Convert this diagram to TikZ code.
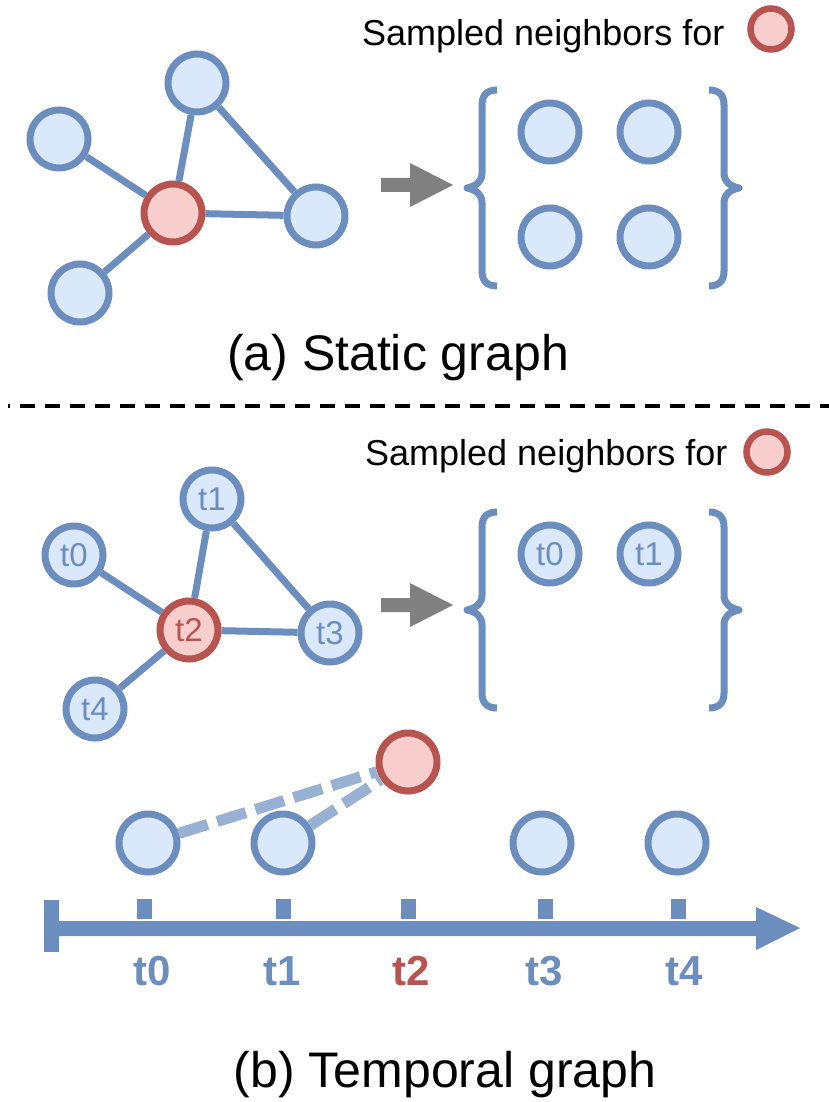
\documentclass[tikz,border=0pt]{standalone}
\usepackage{fontspec}
\setmainfont{Liberation Sans}
\usetikzlibrary{arrows.meta,positioning}
\definecolor{blueline}{HTML}{6C8EBF}
\definecolor{bluefill}{HTML}{DAE8FC}
\definecolor{redline}{HTML}{B85450}
\definecolor{redfill}{HTML}{F8CECC}
\definecolor{arrowgray}{HTML}{808080}

\begin{document}
\begin{tikzpicture}[x=1pt, y=-1pt,
    bnode/.style={circle, draw=blueline, fill=bluefill, line width=7pt,
                  minimum size=58pt, inner sep=0pt, text=blueline,
                  font=\fontsize{33}{36}\selectfont},
    rnode/.style={bnode, draw=redline, fill=redfill, text=redline},
    legend/.style={rnode, minimum size=41pt, line width=6.5pt},
    edge/.style={draw=blueline, line width=7pt},
    tdash/.style={draw=blueline!70, line width=11pt, dash pattern=on 30pt off 10pt},
    sbrace/.style={draw=blueline, line width=7pt, line join=round},
    lbl/.style={inner sep=0pt, font=\fontsize{36}{40}\selectfont},
    caption/.style={inner sep=0pt, anchor=base, font=\fontsize{50}{56}\selectfont},
    tlabel/.style={inner sep=0pt, anchor=base, text=blueline,
                   font=\fontsize{42}{46}\selectfont\bfseries},
    sep/.style={line width=4pt, dash pattern=on 15pt off 10pt, dash phase=13pt}
  ]
  \useasboundingbox (0,0) rectangle (829,1102);

  % (a) static graph
  \node[rnode] (c) at (173,213) {};
  \node[bnode] (n1) at (197,83) {};
  \node[bnode] (n2) at (59,139) {};
  \node[bnode] (n3) at (80,293) {};
  \node[bnode] (n4) at (316,216) {};
  \draw[edge] (c) -- (n1);
  \draw[edge] (c) -- (n2);
  \draw[edge] (c) -- (n3);
  \draw[edge] (c) -- (n4);
  \draw[edge] (n1) -- (n4);

  \node[lbl, anchor=base west] (lab1) at (362,46) {Sampled neighbors for};
  \node[legend] (leg1) at (771,29) {};

  \fill[arrowgray] (381,178) -- (410,178) -- (410,163) -- (453,185)
    -- (410,207) -- (410,192) -- (381,192) -- cycle;

  \node[bnode] (a1) at (550,132) {};
  \node[bnode] (a2) at (649,132) {};
  \node[bnode] (a3) at (550,237) {};
  \node[bnode] (a4) at (649,237) {};

  \node[caption] (capa) at (398,370) {(a) Static graph};

  \draw[sep] (8,406) -- (829,406);

  % (b) temporal graph
  \node[rnode] (t2) at (189,630) {t2};
  \node[bnode] (t0) at (74,555) {t0};
  \node[bnode] (t1) at (212,499) {t1};
  \node[bnode] (t3) at (330,633) {t3};
  \node[bnode] (t4) at (95,709) {t4};
  \draw[edge] (t2) -- (t0);
  \draw[edge] (t2) -- (t1);
  \draw[edge] (t2) -- (t3);
  \draw[edge] (t2) -- (t4);
  \draw[edge] (t1) -- (t3);

  \node[lbl, anchor=base west] (lab2) at (365,465) {Sampled neighbors for};
  \node[legend] (leg2) at (767,452) {};

  \fill[arrowgray] (381,598) -- (410,598) -- (410,583) -- (453,605)
    -- (410,627) -- (410,612) -- (381,612) -- cycle;

  \node[bnode] (s0) at (550,554) {t0};
  \node[bnode] (s1) at (649,554) {t1};

  % braces
  \foreach \dy in {0,422} {
    \begin{scope}[shift={(0,\dy)}]
      \draw[sbrace] (497,90) .. controls (487,90) and (482,95) .. (482,105)
        -- (482,173) .. controls (482,182) and (476,186) .. (467,188)
        .. controls (476,190) and (482,194) .. (482,203)
        -- (482,271) .. controls (482,281) and (487,286) .. (497,286);
      \draw[sbrace] (709,90) .. controls (719,90) and (724,95) .. (724,105)
        -- (724,173) .. controls (724,182) and (730,186) .. (739,188)
        .. controls (730,190) and (724,194) .. (724,203)
        -- (724,271) .. controls (724,281) and (719,286) .. (709,286);
    \end{scope}
  }

  % timeline
  \node[rnode] (q) at (408,762) {};
  \node[bnode] (p0) at (148,843) {};
  \node[bnode] (p1) at (283,843) {};
  \node[bnode] (p3) at (542,843) {};
  \node[bnode] (p4) at (677,843) {};
  \draw[tdash] (p0) -- (q);
  \draw[tdash] (p1) -- (q);

  \fill[blueline] (44,900) rectangle (59,952);
  \fill[blueline] (59,921) -- (756,921) -- (756,907) -- (800,928)
    -- (756,950) -- (756,936) -- (59,936) -- cycle;
  \foreach \x in {144,283,408,545,678}
    \fill[blueline] (\x-7.5,899) rectangle (\x+7.5,919);

  \foreach \x/\t in {152/t0,282/t1,544/t3,684/t4}
    \node[tlabel] (l\t) at (\x,985) {\t};
  \node[tlabel, text=redline] (lt2) at (411,985) {t2};

  \node[caption] (capb) at (445,1087) {(b) Temporal graph};
\end{tikzpicture}
\end{document}
